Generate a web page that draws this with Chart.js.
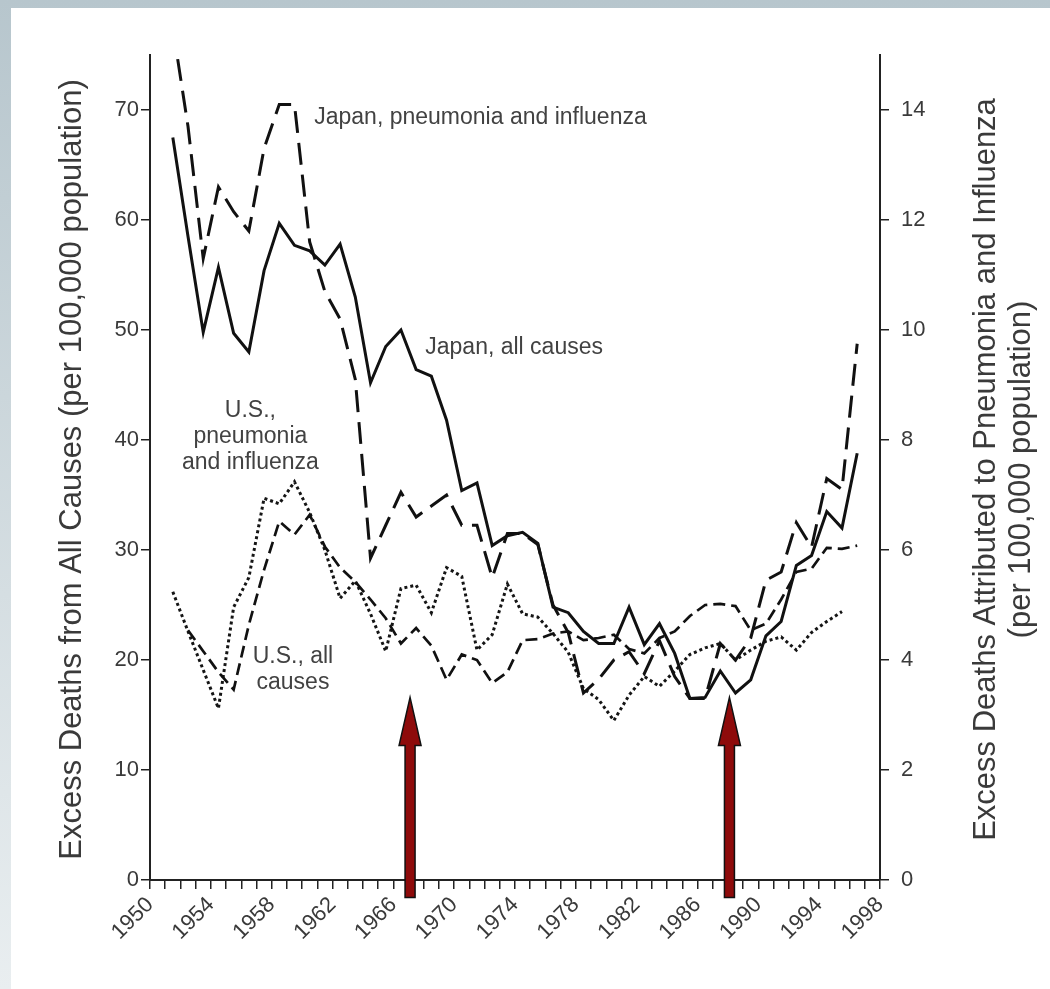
<!DOCTYPE html>
<html>
<head>
<meta charset="utf-8">
<script src="https://cdn.jsdelivr.net/npm/chart.js@4.4.1/dist/chart.umd.min.js"></script>
<style>
  html, body { margin: 0; padding: 0; width: 1050px; height: 989px; overflow: hidden; }
  body { background: linear-gradient(#b7c6cd, #e9eef0); position: relative; }
  #card { position: absolute; left: 11px; top: 8px; right: 0; bottom: 0; background: #fff; }
  #wrap { position: absolute; left: 0; top: 0; width: 1050px; height: 989px; }
</style>
</head>
<body>
<div id="card"></div>
<div id="wrap"><canvas id="chart" width="1050" height="989"></canvas></div>
<script>
// Season mid-points (e.g. 1951.5 = the 1951-52 season)
const seasons = [1951.5, 1952.5, 1953.5, 1954.5, 1955.5, 1956.5, 1957.5, 1958.5, 1959.5, 1960.5,
                 1961.5, 1962.5, 1963.5, 1964.5, 1965.5, 1966.5, 1967.5, 1968.5, 1969.5, 1970.5,
                 1971.5, 1972.5, 1973.5, 1974.5, 1975.5, 1976.5, 1977.5, 1978.5, 1979.5, 1980.5,
                 1981.5, 1982.5, 1983.5, 1984.5, 1985.5, 1986.5, 1987.5, 1988.5, 1989.5, 1990.5,
                 1991.5, 1992.5, 1993.5, 1994.5, 1995.5, 1996.5];

// Excess deaths from all causes, per 100,000 (left axis)
const japanAllCauses = [67.5, 58.5, 49.8, 55.7, 49.7, 48.0, 55.4, 59.7, 57.7, 57.2,
                        55.9, 57.8, 53.0, 45.2, 48.5, 50.0, 46.4, 45.8, 41.8, 35.4,
                        36.1, 30.4, 31.3, 31.6, 30.6, 24.8, 24.3, 22.6, 21.5, 21.5,
                        24.8, 21.4, 23.3, 20.6, 16.5, 16.6, 19.0, 17.0, 18.2, 22.2,
                        23.5, 28.6, 29.5, 33.5, 32.0, 38.8];
const usAllCauses = [null, 22.7, 20.8, 18.9, 17.3, 23.2, 28.2, 32.6, 31.4, 33.2,
                     30.3, 28.4, 27.1, 25.5, 23.8, 21.5, 22.9, 21.3, 18.2, 20.5,
                     20.0, 17.9, 18.9, 21.8, 21.9, 22.4, 22.6, 21.8, 22.0, 22.3,
                     21.0, 20.6, 22.0, 22.6, 24.0, 25.0, 25.1, 24.9, 22.7, 23.3,
                     25.5, 28.0, 28.3, 30.2, 30.1, 30.4];

// Excess deaths attributed to pneumonia and influenza, per 100,000 (right axis)
const japanPneumoFlu = [15.5, 13.7, 11.3, 12.6, 12.15, 11.8, 13.3, 14.1, 14.1, 11.6,
                        10.7, 10.2, 9.1, 5.85, 6.45, 7.05, 6.6, 6.8, 7.0, 6.45,
                        6.45, 5.5, 6.3, 6.3, 6.1, 5.0, 4.5, 3.4, 3.65, 4.0,
                        4.15, 3.75, 4.35, 3.7, 3.3, 3.3, 4.3, 4.0, 4.4, 5.45,
                        5.6, 6.5, 6.05, 7.3, 7.1, 9.75];
const usPneumoFlu = [5.24, 4.52, 3.82, 3.12, 4.96, 5.5, 6.94, 6.84, 7.24, 6.68,
                     6.0, 5.12, 5.44, 4.84, 4.16, 5.3, 5.36, 4.86, 5.68, 5.52,
                     4.18, 4.46, 5.38, 4.84, 4.78, 4.48, 4.14, 3.48, 3.28, 2.9,
                     3.36, 3.7, 3.52, 3.8, 4.1, 4.22, 4.3, 4.0, 4.18, 4.34,
                     4.42, 4.18, 4.5, 4.7, 4.88, null];

// Axis ticks
const xTickValues = [1950, 1951, 1952, 1953, 1954, 1955, 1956, 1957, 1958, 1959, 1960, 1961, 1962,
                     1963, 1964, 1965, 1966, 1967, 1968, 1969, 1970, 1971, 1972, 1973, 1974, 1975,
                     1976, 1977, 1978, 1979, 1980, 1981, 1982, 1983, 1984, 1985, 1986, 1987, 1988,
                     1989, 1990, 1991, 1992, 1993, 1994, 1995, 1996, 1997, 1998];
const xTickLabels = ['1950', '1954', '1958', '1962', '1966', '1970', '1974', '1978', '1982', '1986', '1990', '1994', '1998'];
const leftTicks = [0, 10, 20, 30, 40, 50, 60, 70];
const rightTicks = [0, 2, 4, 6, 8, 10, 12, 14];

// Policy-change markers (arrows) and in-plot series labels
const arrowYears = [1967.1, 1988.1];

const FONT = "'Liberation Sans', Arial, Helvetica, sans-serif";
const TEXT = '#3a3a3a';
const pts = arr => arr.map((v, i) => ({ x: seasons[i], y: v }));

const seriesLabels = [
  { lines: ['Japan, pneumonia and influenza'], x: 1960.8, y: 69.3, align: 'left' },
  { lines: ['Japan, all causes'], x: 1968.1, y: 48.4, align: 'left' },
  { lines: ['U.S.,', 'pneumonia', 'and influenza'], x: 1956.6, y: 42.7, align: 'center' },
  { lines: ['U.S., all', 'causes'], x: 1959.4, y: 20.3, align: 'center' }
];

const overlay = {
  id: 'overlay',
  afterDatasetsDraw(chart) {
    const c = chart.ctx;
    const xs = chart.scales.x, yl = chart.scales.yAll, area = chart.chartArea;
    c.save();

    // series labels
    c.fillStyle = '#424242';
    c.font = '23px ' + FONT;
    c.textBaseline = 'middle';
    seriesLabels.forEach(l => {
      c.textAlign = l.align;
      const px = xs.getPixelForValue(l.x);
      const py = yl.getPixelForValue(l.y);
      l.lines.forEach((t, k) => c.fillText(t, px, py + k * 26));
    });

    // arrows
    arrowYears.forEach(yr => {
      const cx = xs.getPixelForValue(yr);
      const tip = yl.getPixelForValue(16.6);
      const base = yl.getPixelForValue(-1.6);
      const headH = 48, headW = 11, shaftW = 5;
      c.beginPath();
      c.moveTo(cx, tip);
      c.lineTo(cx + headW, tip + headH);
      c.lineTo(cx + shaftW, tip + headH);
      c.lineTo(cx + shaftW, base);
      c.lineTo(cx - shaftW, base);
      c.lineTo(cx - shaftW, tip + headH);
      c.lineTo(cx - headW, tip + headH);
      c.closePath();
      c.fillStyle = '#8e0b0b';
      c.fill();
      c.lineWidth = 1.5;
      c.strokeStyle = '#111';
      c.stroke();
    });

    // axis titles (both read bottom-to-top)
    c.fillStyle = TEXT;
    c.textAlign = 'center';
    c.textBaseline = 'middle';
    c.font = '31px ' + FONT;
    const midY = (area.top + area.bottom) / 2 + 2;
    c.save();
    c.translate(72, midY);
    c.rotate(-Math.PI / 2);
    c.fillText('Excess Deaths from All Causes (per 100,000 population)', 0, 0);
    c.restore();
    c.save();
    c.translate(986, midY);
    c.rotate(-Math.PI / 2);
    c.fillText('Excess Deaths Attributed to Pneumonia and Influenza', 0, 0);
    c.fillText('(per 100,000 population)', 0, 35);
    c.restore();

    c.restore();
  }
};

const axisGrid = { display: true, drawOnChartArea: false, drawTicks: true, tickLength: 9, color: '#222', lineWidth: 1.5 };
const axisBorder = { display: true, color: '#222', width: 2 };
const tickFont = { family: FONT, size: 22 };

new Chart(document.getElementById('chart'), {
  type: 'line',
  data: {
    datasets: [
      { label: 'Japan, all causes', data: pts(japanAllCauses), yAxisID: 'yAll',
        borderColor: '#111', borderWidth: 3 },
      { label: 'Japan, pneumonia and influenza', data: pts(japanPneumoFlu), yAxisID: 'yPI',
        borderColor: '#111', borderWidth: 3, borderDash: [22, 10] },
      { label: 'U.S., all causes', data: pts(usAllCauses), yAxisID: 'yAll',
        borderColor: '#111', borderWidth: 2.7, borderDash: [12, 6] },
      { label: 'U.S., pneumonia and influenza', data: pts(usPneumoFlu), yAxisID: 'yPI',
        borderColor: '#151515', borderWidth: 3, borderDash: [3, 3] }
    ]
  },
  options: {
    responsive: false,
    animation: false,
    devicePixelRatio: 1,
    layout: { padding: { top: 55, left: 0, right: 0, bottom: 0 } },
    elements: { point: { radius: 0 }, line: { tension: 0, borderCapStyle: 'butt', borderJoinStyle: 'miter' } },
    plugins: { legend: { display: false }, tooltip: { enabled: false }, title: { display: false } },
    scales: {
      x: {
        type: 'linear', min: 1950, max: 1998,
        afterBuildTicks: s => { s.ticks = xTickValues.map(v => ({ value: v })); },
        afterFit: s => { s.height = 109; },
        grid: axisGrid, border: axisBorder,
        ticks: {
          autoSkip: false, maxRotation: 45, minRotation: 45, padding: 3,
          color: TEXT, font: tickFont,
          callback: v => xTickLabels.includes(String(v)) ? String(v) : ''
        }
      },
      yAll: {
        type: 'linear', position: 'left', min: 0, max: 75,
        afterBuildTicks: s => { s.ticks = leftTicks.map(v => ({ value: v })); },
        afterFit: s => { s.width = 150; },
        grid: axisGrid, border: axisBorder,
        ticks: { color: TEXT, font: tickFont, padding: 2 }
      },
      yPI: {
        type: 'linear', position: 'right', min: 0, max: 15,
        afterBuildTicks: s => { s.ticks = rightTicks.map(v => ({ value: v })); },
        afterFit: s => { s.width = 170; },
        grid: axisGrid, border: axisBorder,
        ticks: { color: TEXT, font: tickFont, padding: 12 }
      }
    }
  },
  plugins: [overlay]
});
</script>
</body>
</html>
